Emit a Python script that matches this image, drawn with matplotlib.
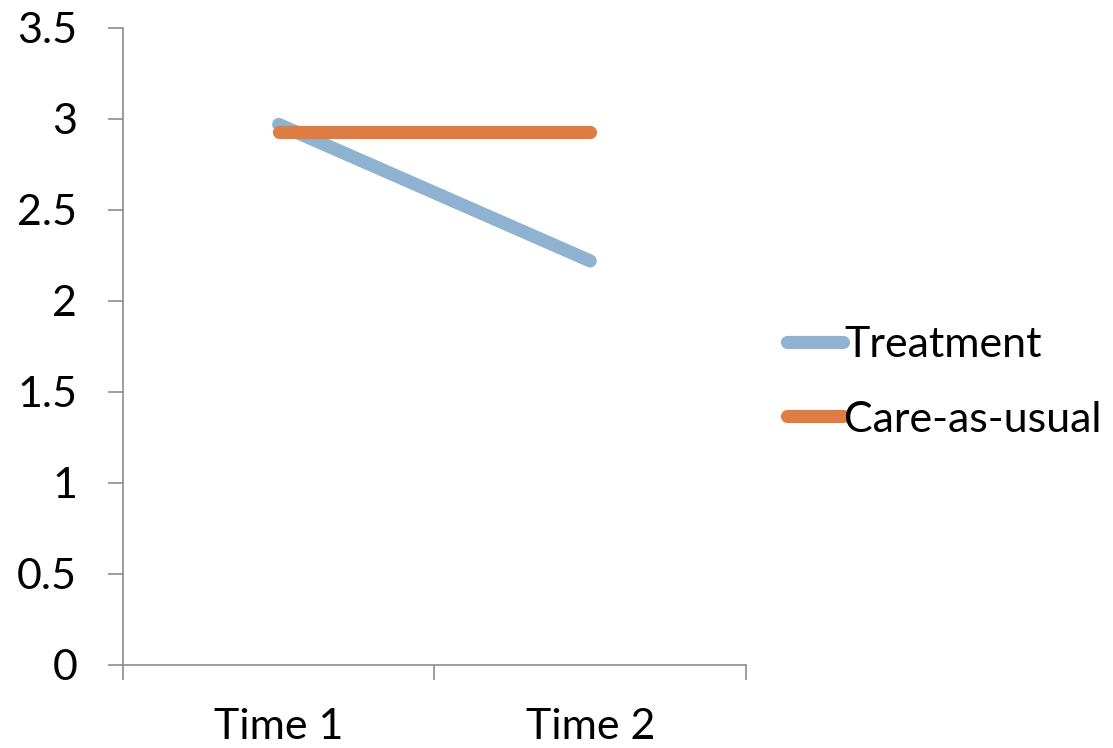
import numpy as np
import matplotlib.pyplot as plt

times = ["Time 1", "Time 2"]
treatment = [2.97, 2.22]
care_as_usual = [2.93, 2.93]
y_ticks = [0, 0.5, 1, 1.5, 2, 2.5, 3, 3.5]
y_labels = ["0", "0.5", "1", "1.5", "2", "2.5", "3", "3.5"]

plt.rcParams["font.family"] = ["Lato", "DejaVu Sans"]
fs = 31

fig = plt.figure(figsize=(11.13, 7.48), dpi=100)
ax = fig.add_axes([0.1105, 0.111, 0.5597, 0.8516])

x = np.arange(len(times)) + 0.5
ax.plot(x, treatment, color="#8EB2CF", lw=9.5, solid_capstyle="round", label="Treatment")
ax.plot(x, care_as_usual, color="#DD7D44", lw=9.5, solid_capstyle="round", label="Care-as-usual")

ax.set_xlim(0, len(times))
ax.set_ylim(0, 3.5)

# category boundaries get the tick marks, names sit between them
ax.set_xticks(np.arange(len(times) + 1))
ax.set_xticklabels([])
ax.set_xticks(x, minor=True)
ax.set_xticklabels(times, minor=True, fontsize=fs)
ax.tick_params(axis="x", which="major", direction="out", length=11, width=1.2, color="#8c8c8c")
ax.tick_params(axis="x", which="minor", length=0, pad=31)

ax.set_yticks(y_ticks)
ax.set_yticklabels(y_labels, fontsize=fs)
ax.tick_params(axis="y", direction="out", length=11, width=1.2, color="#8c8c8c", pad=22)

for side in ["top", "right"]:
    ax.spines[side].set_visible(False)
for side in ["left", "bottom"]:
    ax.spines[side].set_color("#8c8c8c")
    ax.spines[side].set_linewidth(1.2)

fig.legend(loc="center left", bbox_to_anchor=(0.707, 0.489), frameon=False,
           fontsize=fs, handlelength=1.3, handletextpad=0.03, labelspacing=0.85,
           borderpad=0, borderaxespad=0)

fig.savefig("out.png", dpi=100)
